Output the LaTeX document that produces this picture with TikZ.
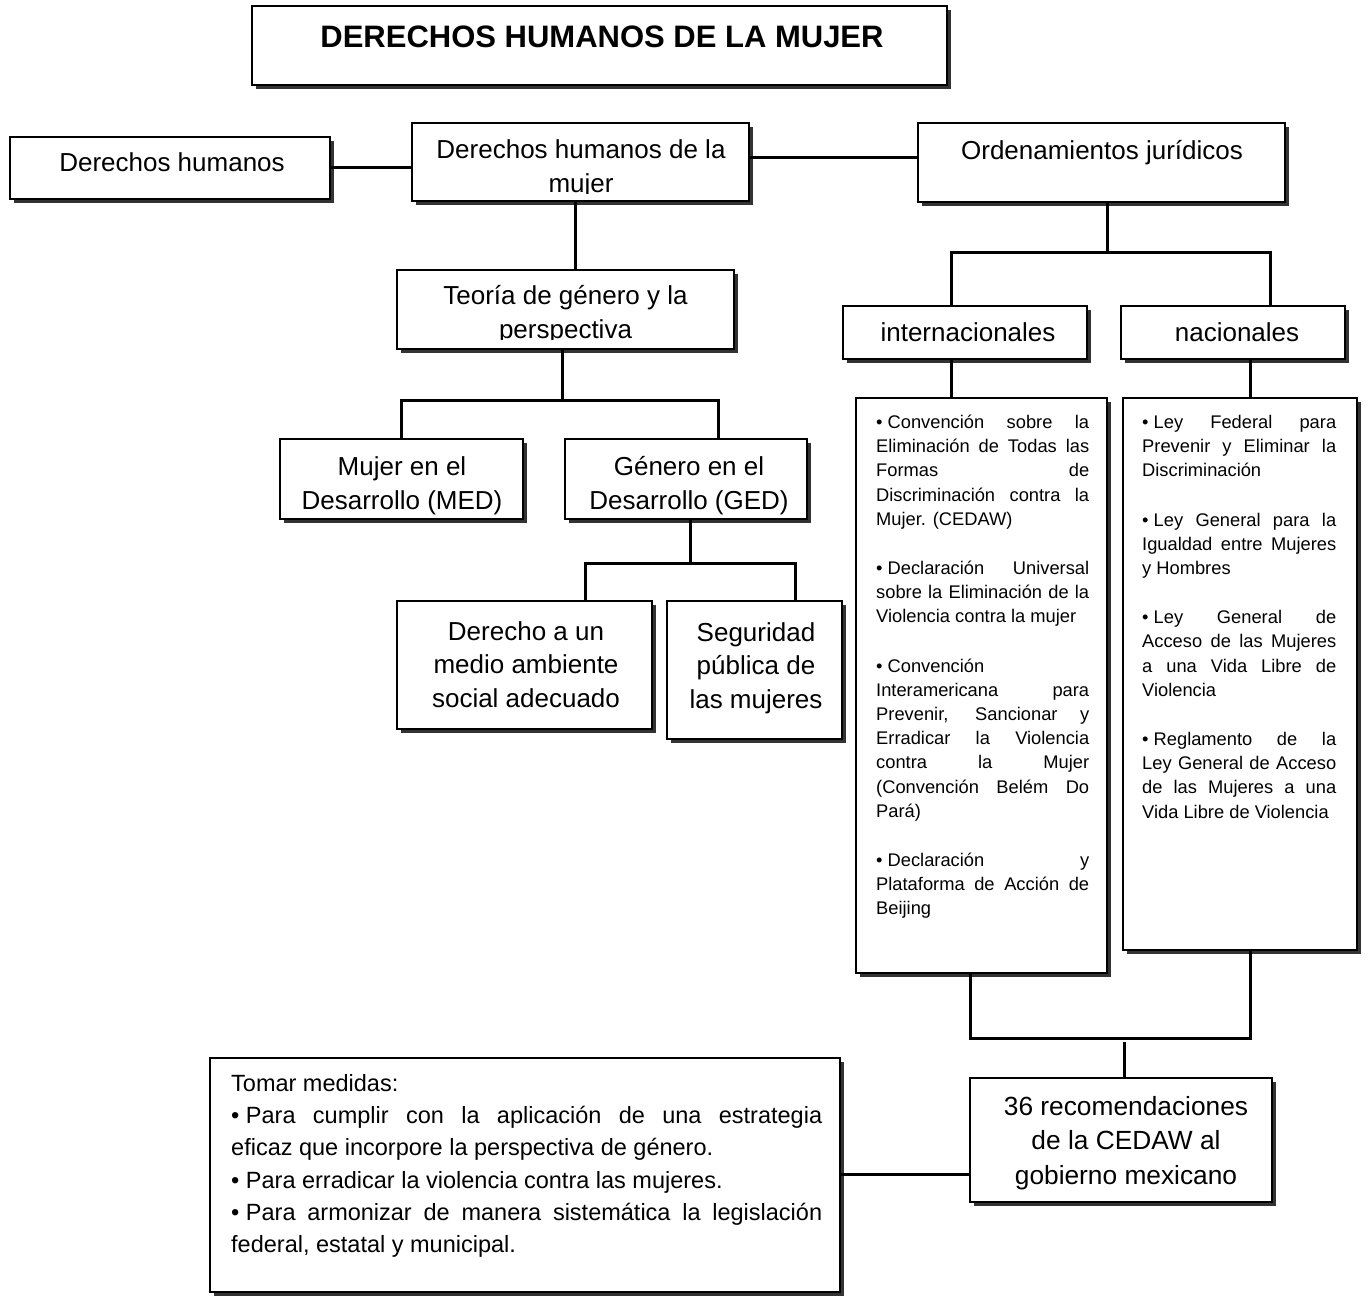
\documentclass[tikz,border=0pt]{standalone}
\usepackage{fontspec}
\setmainfont{Liberation Sans}
\usetikzlibrary{shadows}
\newcommand\bul{\mbox{•\ }}
\newcommand\gap{\par\vspace{25pt}}
\tikzset{
  box/.style={draw=black, line width=1.1pt, fill=white, inner sep=0pt,
    drop shadow={shadow xshift=4pt, shadow yshift=-4pt, fill=black!80, opacity=1}},
  conn/.style={line width=3pt},
  txt/.style={inner sep=0pt, anchor=base, align=center, font=\fontsize{26}{33.5}\selectfont},
  listtxt/.style={inner sep=0pt, anchor=base west, align=justify, font=\fontsize{18.3}{24.2}\selectfont},
}
\begin{document}
\begin{tikzpicture}[x=1pt, y=-1pt]
\useasboundingbox (0,0) rectangle (1367,1297);
% boxes
\node[box, minimum width=695pt, minimum height=79pt] (title) at (599.5,45.5) {};
\node[box, minimum width=320pt, minimum height=62pt] (dh) at (170,168) {};
\node[box, minimum width=337pt, minimum height=78pt] (dhm) at (580.5,162) {};
\node[box, minimum width=367pt, minimum height=79pt] (ord) at (1101.5,162.5) {};
\node[box, minimum width=337pt, minimum height=79pt] (teoria) at (565.5,309.5) {};
\node[box, minimum width=244pt, minimum height=53pt] (intl) at (965,332.5) {};
\node[box, minimum width=224pt, minimum height=53pt] (nac) at (1233,332.5) {};
\node[box, minimum width=243pt, minimum height=80pt] (med) at (401.5,479) {};
\node[box, minimum width=242pt, minimum height=80pt] (ged) at (686,479) {};
\node[box, minimum width=255pt, minimum height=128pt] (der) at (524.5,665) {};
\node[box, minimum width=175pt, minimum height=138pt] (seg) at (754.5,670) {};
\node[box, minimum width=251pt, minimum height=575pt] (intlist) at (981.5,685.5) {};
\node[box, minimum width=234pt, minimum height=552pt] (naclist) at (1240,674) {};
\node[box, minimum width=630pt, minimum height=234pt] (tomar) at (525,1175) {};
\node[box, minimum width=302pt, minimum height=124pt] (rec) at (1121,1140) {};
% junction points
\coordinate (xD) at (575,0);
\coordinate (jO) at (1107,253);
\coordinate (jOl) at (951,253);
\coordinate (jOr) at (1270,253);
\coordinate (xN) at (1250,0);
\coordinate (jT) at (562,400);
\coordinate (jTl) at (401,400);
\coordinate (jTr) at (718,400);
\coordinate (jG) at (690,563);
\coordinate (jGl) at (585,563);
\coordinate (jGr) at (795,563);
\coordinate (jBl) at (970,1038);
\coordinate (jBr) at (1250,1038);
\coordinate (jR) at (1124,1042);
% connectors
\draw[conn] (dh.east) -- (dh.east -| dhm.west);
\draw[conn] ([yshift=4pt]dhm.east) -- ([yshift=4pt]dhm.east -| ord.west);
\draw[conn] (xD |- dhm.south) -- (xD |- teoria.north);
\draw[conn] (ord.south -| jO) -- (jO);
\draw[conn] (jOl |- intl.north) -- (jOl) -- (jOr) -- (jOr |- nac.north);
\draw[conn] (jOl |- intl.south) -- (jOl |- intlist.north);
\draw[conn] (xN |- nac.south) -- (xN |- naclist.north);
\draw[conn] (teoria.south -| jT) -- (jT);
\draw[conn] (jTl |- med.north) -- (jTl) -- (jTr) -- (jTr |- ged.north);
\draw[conn] (ged.south -| jG) -- (jG);
\draw[conn] (jGl |- der.north) -- (jGl) -- (jGr) -- (jGr |- seg.north);
\draw[conn] (jBl |- intlist.south) -- (jBl) -- (jBr) -- (jBr |- naclist.south);
\draw[conn] (jR) -- (jR |- rec.north);
\draw[conn] ([yshift=1pt]tomar.east) -- ([yshift=1pt]tomar.east -| rec.west);
% texts (multi-line centred nodes: base = last line)
\node[txt, font=\fontsize{31}{37}\selectfont\bfseries] (titletxt) at (602,47.1) {DERECHOS HUMANOS DE LA MUJER};
\node[txt] (dhtxt) at (172,171.3) {Derechos humanos};
\begin{scope}
  \clip (dhm.north west) rectangle ([yshift=8pt]dhm.south east);
  \node[txt] (dhmtxt) at (581,192.3) {Derechos humanos de la\\mujer};
\end{scope}
\node[txt] (ordtxt) at (1102,159.3) {Ordenamientos jurídicos};
\begin{scope}
  \clip (teoria.north west) rectangle ([yshift=10pt]teoria.south east);
  \node[txt] (teoriatxt) at (565.5,338.3) {Teoría de género y la\\perspectiva};
\end{scope}
\node[txt] (intltxt) at (968,341.3) {internacionales};
\node[txt] (nactxt) at (1237,341.3) {nacionales};
\node[txt] (medtxt) at (402,509.3) {Mujer en el\\Desarrollo (MED)};
\node[txt] (gedtxt) at (689,509.3) {Género en el\\Desarrollo (GED)};
\node[txt] (dertxt) at (526,707.3) {Derecho a un\\medio ambiente\\social adecuado};
\node[txt] (segtxt) at (756,708.3) {Seguridad\\pública de\\las mujeres};
\node[txt, font=\fontsize{26.3}{34.5}\selectfont] (rectxt) at (1126,1184.4) {36 recomendaciones\\de la CEDAW al\\gobierno mexicano};
\node[listtxt, text width=213pt] (intllisttxt) at (876,428.5) {\tolerance=10000\hbadness=10000\hyphenpenalty=10000%
\bul Convención sobre la\linebreak Eliminación de Todas las\linebreak Formas de\linebreak Discriminación contra la\linebreak Mujer. (CEDAW)\gap
\bul Declaración Universal\linebreak sobre la Eliminación de la\linebreak Violencia contra la mujer\gap
\bul Convención\newline Interamericana para\linebreak Prevenir, Sancionar y\linebreak Erradicar la Violencia\linebreak contra la Mujer\linebreak (Convención Belém Do\linebreak Pará)\gap
\bul Declaración y\linebreak Plataforma de Acción de\linebreak Beijing\par};
\node[listtxt, text width=194pt] (naclisttxt) at (1142,428.5) {\tolerance=10000\hbadness=10000\hyphenpenalty=10000%
\bul Ley Federal para\linebreak Prevenir y Eliminar la\linebreak Discriminación\gap
\bul Ley General para la\linebreak Igualdad entre Mujeres\linebreak y Hombres\gap
\bul Ley General de\linebreak Acceso de las Mujeres\linebreak a una Vida Libre de\linebreak Violencia\gap
\bul Reglamento de la\linebreak Ley General de Acceso\linebreak de las Mujeres a una\linebreak Vida Libre de Violencia\par};
\node[listtxt, text width=591pt, font=\fontsize{23.5}{32.2}\selectfont] (tomartxt) at (231,1091.4) {\tolerance=10000\hbadness=10000\hyphenpenalty=10000%
Tomar medidas:\par
\bul Para cumplir con la aplicación de una estrategia\linebreak eficaz que incorpore la perspectiva de género.\par
\bul Para erradicar la violencia contra las mujeres.\par
\bul Para armonizar de manera sistemática la legislación\linebreak federal, estatal y municipal.\par};
\end{tikzpicture}
\end{document}
